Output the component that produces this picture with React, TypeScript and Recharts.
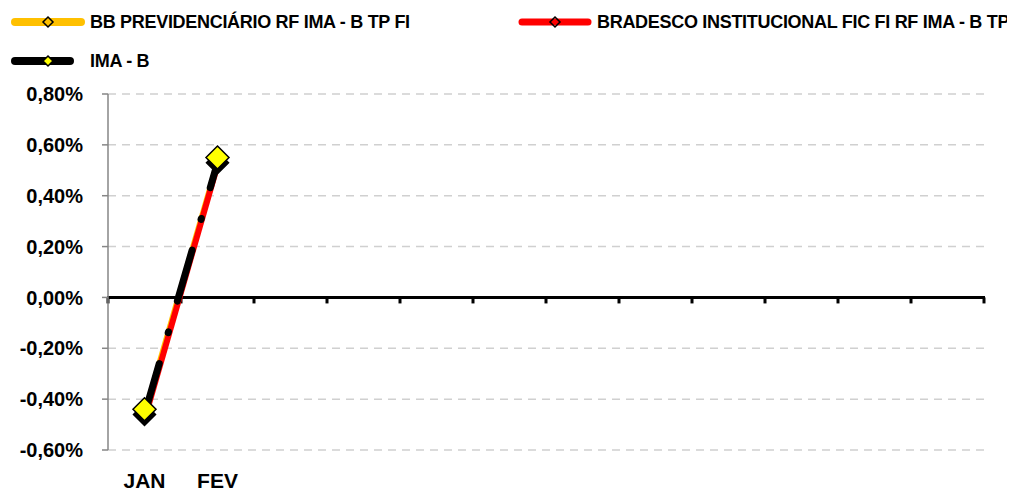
import { LineChart, Line, XAxis, YAxis, CartesianGrid, ReferenceLine } from 'recharts';

const MONTHS = ['JAN', 'FEV', 'MAR', 'ABR', 'MAI', 'JUN', 'JUL', 'AGO', 'SET', 'OUT', 'NOV', 'DEZ'];
const MONTH_LABELS = ['JAN', 'FEV', '', '', '', '', '', '', '', '', '', ''];

// monthly returns in %
const BB_RF = [-0.44, 0.55];
const BRADESCO = [-0.48, 0.52];
const IMA_B = [-0.46, 0.53];

const Y_TICKS = [-0.6, -0.4, -0.2, 0, 0.2, 0.4, 0.6, 0.8];

const NAME_BB = 'BB PREVIDENCIÁRIO RF IMA - B TP FI';
const NAME_BRADESCO = 'BRADESCO INSTITUCIONAL FIC FI RF IMA - B TP';
const NAME_IMAB = 'IMA - B';

const FONT = "'Liberation Sans', Arial, sans-serif";

const data = MONTHS.map((m, i) => ({
  month: m,
  bb: BB_RF[i] ?? null,
  bradesco: BRADESCO[i] ?? null,
  imab: IMA_B[i] ?? null,
}));

function pct(v: number): string {
  return `${v.toFixed(2).replace('.', ',').replace('-0,00', '0,00')}%`;
}

function diamond(fill: string, r: number, stroke: string) {
  return (props: any) => {
    const { cx, cy, index } = props;
    if (cx == null || cy == null || props.value == null) return <g key={index} />;
    return (
      <polygon key={index}
        points={`${cx},${cy - r} ${cx + r},${cy} ${cx},${cy + r} ${cx - r},${cy}`}
        fill={fill} stroke={stroke} strokeWidth={1.5} strokeLinejoin="miter" />
    );
  };
}

// category axis drawn on the zero line, tick marks hanging below
function ZeroAxis(props: any) {
  const { x1, y1, x2 } = props;
  const step = (x2 - x1) / MONTHS.length;
  return (
    <g>
      <line x1={x1 - 1} x2={x2 + 1} y1={y1} y2={y1} stroke="#000" strokeWidth={3} />
      {[...MONTHS, ''].map((_, i) => (
        <rect key={i} x={x1 + i * step - 1.5} y={y1} width={3} height={6} fill="#000" />
      ))}
    </g>
  );
}

function LegendItem({ left, top, lineLen, color, marker, label, gap, thick }:
  { left: number; top: number; lineLen: number; color: string; marker: string; label: string; gap: number; thick: number }) {
  const cx = 37;
  return (
    <div style={{ position: 'absolute', left, top, height: 20, display: 'flex', alignItems: 'center' }}>
      <svg width={lineLen} height={20} style={{ display: 'block' }}>
        <line x1={4} x2={lineLen - 4} y1={10} y2={10} stroke={color} strokeWidth={thick} strokeLinecap="round" />
        <polygon points={`${cx},${5} ${cx + 5},${10} ${cx},${15} ${cx - 5},${10}`}
          fill={marker} stroke="#000" strokeWidth={1.5} />
      </svg>
      <span style={{ marginLeft: gap, fontFamily: FONT, fontWeight: 700, fontSize: 18, letterSpacing: -0.3, whiteSpace: 'nowrap', color: '#000' }}>
        {label}
      </span>
    </div>
  );
}

export default function App() {
  return (
    <div style={{ position: 'relative', width: 1000, height: 485, background: '#fff' }}>
      <LineChart width={1000} height={485} data={data}
        margin={{ top: 86, right: 24, bottom: 8, left: 0 }} style={{ position: 'absolute', left: 0, top: 0 }}>
        <CartesianGrid horizontal vertical={false} stroke="#d0d0d0" strokeWidth={1.5} strokeDasharray="8 6" />
        <XAxis dataKey="month" interval={0} height={35} axisLine={false} tickLine={false}
          tickSize={0} tickMargin={23} padding={{ left: 36.5, right: 36.5 }}
          tickFormatter={(_v: any, i: number) => MONTH_LABELS[i]}
          tick={{ fill: '#000', fontSize: 21, fontWeight: 700, fontFamily: FONT }} />
        <YAxis width={100} domain={[-0.6, 0.8]} ticks={Y_TICKS} tickFormatter={pct}
          axisLine={{ stroke: '#868686', strokeWidth: 1.5 }} tickLine={{ stroke: '#868686', strokeWidth: 1.5 }}
          tickSize={6} tickMargin={19}
          tick={{ fill: '#000', fontSize: 20, fontWeight: 700, fontFamily: FONT }} />
        <ReferenceLine y={0} shape={ZeroAxis} />
        <Line dataKey="bb" name={NAME_BB} stroke="#FFC000" strokeWidth={3} dot={false}
          isAnimationActive={false} />
        <Line dataKey="bradesco" name={NAME_BRADESCO} stroke="#FF0000" strokeWidth={6} dot={false}
          isAnimationActive={false} />
        <Line dataKey="imab" name={NAME_IMAB} stroke="#000" strokeWidth={7} strokeLinecap="round"
          strokeDasharray="53 32 1 32" dot={diamond('#000', 11, '#000')} isAnimationActive={false} />
        <Line dataKey="bb" name={`${NAME_BB} marcadores`} stroke="none" legendType="none"
          dot={diamond('#FFFF00', 11.5, '#000')} isAnimationActive={false} />
      </LineChart>
      <LegendItem left={3} top={4} lineLen={74} color="#FFC000" marker="none" label={NAME_BB} gap={5} thick={8} />
      <LegendItem left={510} top={4} lineLen={74} color="#FF0000" marker="none" label={NAME_BRADESCO} gap={5} thick={7} />
      <LegendItem left={3} top={43} lineLen={63} color="#000" marker="#FFFF00" label={NAME_IMAB} gap={16} thick={8} />
    </div>
  );
}
